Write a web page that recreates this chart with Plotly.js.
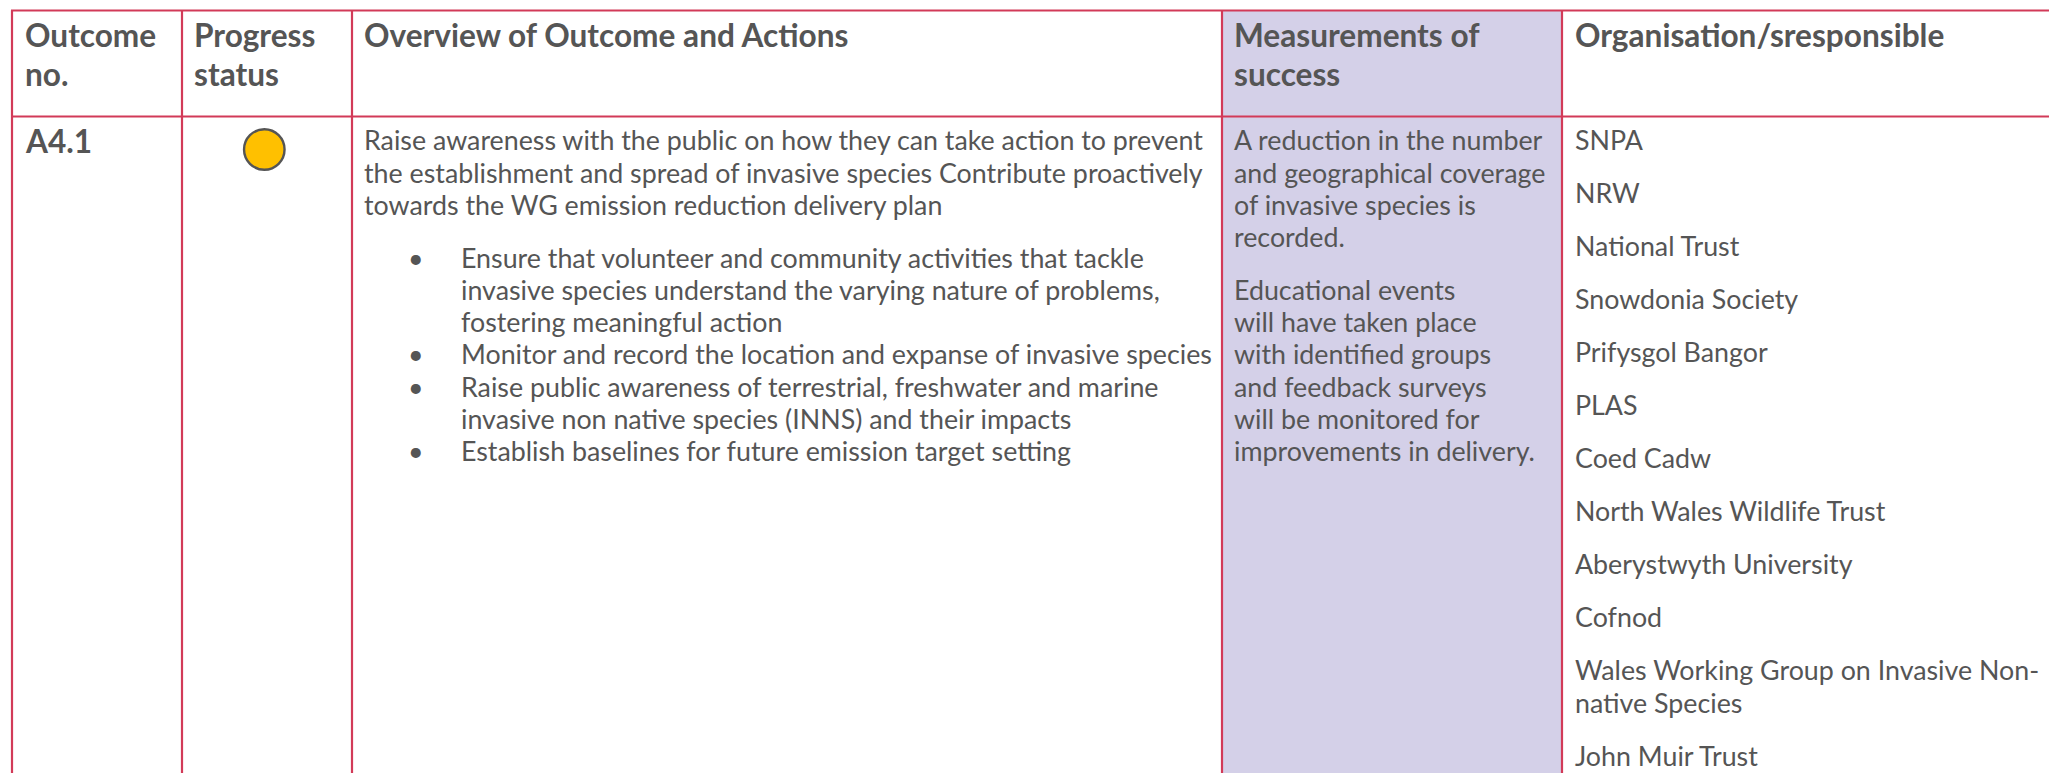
<!DOCTYPE html>
<html>
<head>
<meta charset="utf-8">
<script src="https://cdn.plot.ly/plotly-3.0.1.min.js"></script>
<style>html,body{margin:0;padding:0;background:#fff;}#chart{width:2049px;height:773px;}</style>
</head>
<body>
<div id="chart"></div>
<script>
// ---------------- data ----------------
const headers = [
  ['Outcome', 'no.'],
  ['Progress', 'status'],
  ['Overview of Outcome and Actions'],
  ['Measurements of', 'success'],
  ['Organisation/sresponsible']
];
const outcomeIds = ['A4.1'];
const progressStatus = ['amber'];
const overviewIntro = [
  'Raise awareness with the public on how they can take action to prevent',
  'the establishment and spread of invasive species Contribute proactively',
  'towards the WG emission reduction delivery plan'
];
const overviewActions = [
  ['Ensure that volunteer and community activities that tackle',
   'invasive species understand the varying nature of problems,',
   'fostering meaningful action'],
  ['Monitor and record the location and expanse of invasive species'],
  ['Raise public awareness of terrestrial, freshwater and marine',
   'invasive non native species (INNS) and their impacts'],
  ['Establish baselines for future emission target setting']
];
const measures = [
  ['A reduction in the number', 'and geographical coverage', 'of invasive species is', 'recorded.'],
  ['Educational events', 'will have taken place', 'with identified groups', 'and feedback surveys',
   'will be monitored for', 'improvements in delivery.']
];
const organisations = [
  ['SNPA'], ['NRW'], ['National Trust'], ['Snowdonia Society'], ['Prifysgol Bangor'],
  ['PLAS'], ['Coed Cadw'], ['North Wales Wildlife Trust'], ['Aberystwyth University'],
  ['Cofnod'], ['Wales Working Group on Invasive Non-', 'native Species'], ['John Muir Trust']
];

// ---------------- layout constants ----------------
const W = 2049, H = 773;
const colEdges = [12, 182, 352, 1222, 1562];
const topY = 10.5, headY = 116.5;
const lineCol = '#d23a58';
const lavender = '#d4d0e8';
const textCol = '#555555';
const FONT = 'Lato, "Open Sans", sans-serif';
const headSize = 31.6, headLH = 38.6, headBase = 47.5;
const bodySize = 26.8, bodyLH = 32.2, paraGap = 20.8, bodyBase = 150.8;
const padX = [24, 193, 363, 1233, 1574];
const statusColours = {amber: '#FFC000', green: '#00B050', red: '#FF0000'};

const annotations = [];
function addText(x, baseline, text, size, bold, xanchor) {
  annotations.push({
    x: x, y: baseline - 0.387 * size, xref: 'x', yref: 'y',
    text: bold ? '<b>' + text + '</b>' : text,
    showarrow: false, xanchor: xanchor || 'left', yanchor: 'middle',
    font: {family: FONT, size: size, color: textCol}, borderpad: 0
  });
}

// headers
headers.forEach((lines, c) => {
  lines.forEach((t, i) => addText(padX[c], headBase + i * headLH, t, headSize, true));
});
// outcome id
outcomeIds.forEach(id => addText(padX[0], bodyBase + 2.5, id, headSize, true));

// overview intro
let y = bodyBase;
overviewIntro.forEach(t => { addText(padX[2], y, t, bodySize, false); y += bodyLH; });
y += paraGap;
overviewActions.forEach(item => {
  addText(416, y, '•', bodySize, false, 'center');
  item.forEach(t => { addText(459.5, y, t, bodySize, false); y += bodyLH; });
});

// measures
y = bodyBase;
measures.forEach(par => {
  par.forEach(t => { addText(padX[3], y, t, bodySize, false); y += bodyLH; });
  y += paraGap;
});

// organisations
y = bodyBase;
organisations.forEach(par => {
  par.forEach(t => { addText(padX[4], y, t, bodySize, false); y += bodyLH; });
  y += paraGap;
});

// shapes
const shapes = [];
shapes.push({type: 'rect', xref: 'x', yref: 'y', x0: colEdges[3], x1: colEdges[4], y0: topY, y1: H + 10,
  fillcolor: lavender, line: {width: 0}, layer: 'below'});
[topY, headY].forEach(yy => shapes.push({type: 'line', xref: 'x', yref: 'y', x0: colEdges[0] - 1, x1: W + 10,
  y0: yy, y1: yy, line: {color: lineCol, width: 2.2}}));
colEdges.forEach(xx => shapes.push({type: 'line', xref: 'x', yref: 'y', x0: xx, x1: xx,
  y0: topY, y1: H + 10, line: {color: lineCol, width: 2.2}}));

const trace = {
  type: 'scatter', mode: 'markers',
  x: [264.3], y: [149.5],
  marker: {size: 40.5, color: progressStatus.map(s => statusColours[s]),
    line: {color: '#555555', width: 2.4}},
  hoverinfo: 'skip', showlegend: false
};

const layout = {
  width: W, height: H,
  margin: {l: 0, r: 0, t: 0, b: 0, pad: 0},
  paper_bgcolor: '#ffffff', plot_bgcolor: '#ffffff',
  xaxis: {range: [0, W], visible: false, fixedrange: true},
  yaxis: {range: [H, 0], visible: false, fixedrange: true},
  shapes: shapes, annotations: annotations, showlegend: false,
  font: {family: FONT, color: textCol}
};
Plotly.newPlot('chart', [trace], layout, {displayModeBar: false, staticPlot: true});
</script>
</body>
</html>
